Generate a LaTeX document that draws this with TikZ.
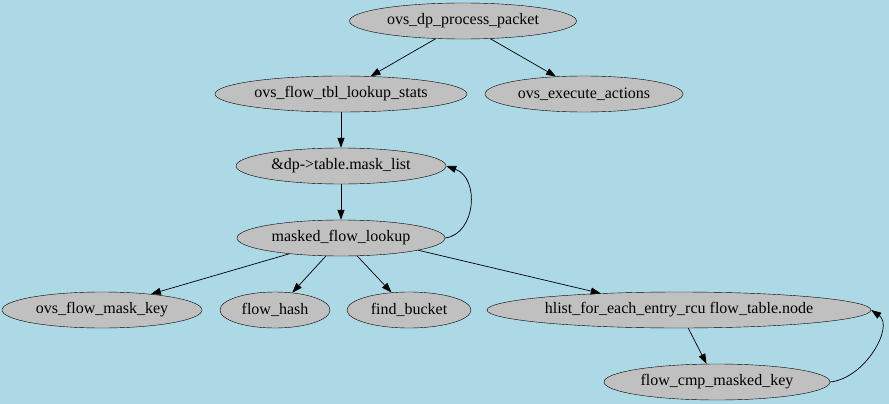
\documentclass[tikz,border=0pt]{standalone}
\usepackage{fontspec}
\setmainfont{Liberation Serif}
\usetikzlibrary{shapes.geometric,arrows.meta}
\definecolor{bgblue}{HTML}{ADD8E6}
\definecolor{nodegray}{HTML}{C0C0C0}
\tikzset{
  fn/.style={ellipse, draw=black, fill=nodegray, inner sep=0pt, minimum height=36pt,
    font=\fontsize{16}{18}\selectfont},
  edge/.style={draw=black, line width=0.7pt, -{Triangle[length=10pt,width=7pt]}}
}
\begin{document}
\begin{tikzpicture}[x=1pt,y=-1pt]
\fill[bgblue] (0,0) rectangle (889,404);
\useasboundingbox (0,0) rectangle (889,404);
\node[fn, minimum width=227pt] (n1) at (463,21) {ovs\_dp\_process\_packet};
\node[fn, minimum width=252pt] (n2) at (341,94) {ovs\_flow\_tbl\_lookup\_stats};
\node[fn, minimum width=198pt] (n3) at (584,94) {ovs\_execute\_actions};
\node[fn, minimum width=210pt] (n4) at (341,166) {\&dp->table.mask\_list};
\node[fn, minimum width=208pt] (n5) at (341,238) {masked\_flow\_lookup};
\node[fn, minimum width=200pt] (n6) at (102,310) {ovs\_flow\_mask\_key};
\node[fn, minimum width=110pt] (n7) at (275,310) {flow\_hash};
\node[fn, minimum width=124pt] (n8) at (409,310) {find\_bucket};
\node[fn, minimum width=384pt] (n9) at (679,310) {hlist\_for\_each\_entry\_rcu flow\_table.node};
\node[fn, minimum width=226pt] (n10) at (717,382) {flow\_cmp\_masked\_key};
\draw[edge] (n1.213) -- (n2.31);
\draw[edge] (n1.327) -- (n3.148);
\draw[edge] (n2) -- (n4);
\draw[edge] (n4) -- (n5);
\draw[edge] (n5.east) .. controls (476,234) and (480,178) .. (n4.east);
\draw[edge] (n5.197) -- (n6.18);
\draw[edge] (n5.230) -- (n7.45);
\draw[edge] (n5.312) -- (n8.135);
\draw[edge] (n5.351) -- (n9.168);
\draw[edge] (n9.297) -- (n10.120);
\draw[edge] (n10.east) .. controls (866,378) and (894,326) .. (n9.east);
\end{tikzpicture}
\end{document}
